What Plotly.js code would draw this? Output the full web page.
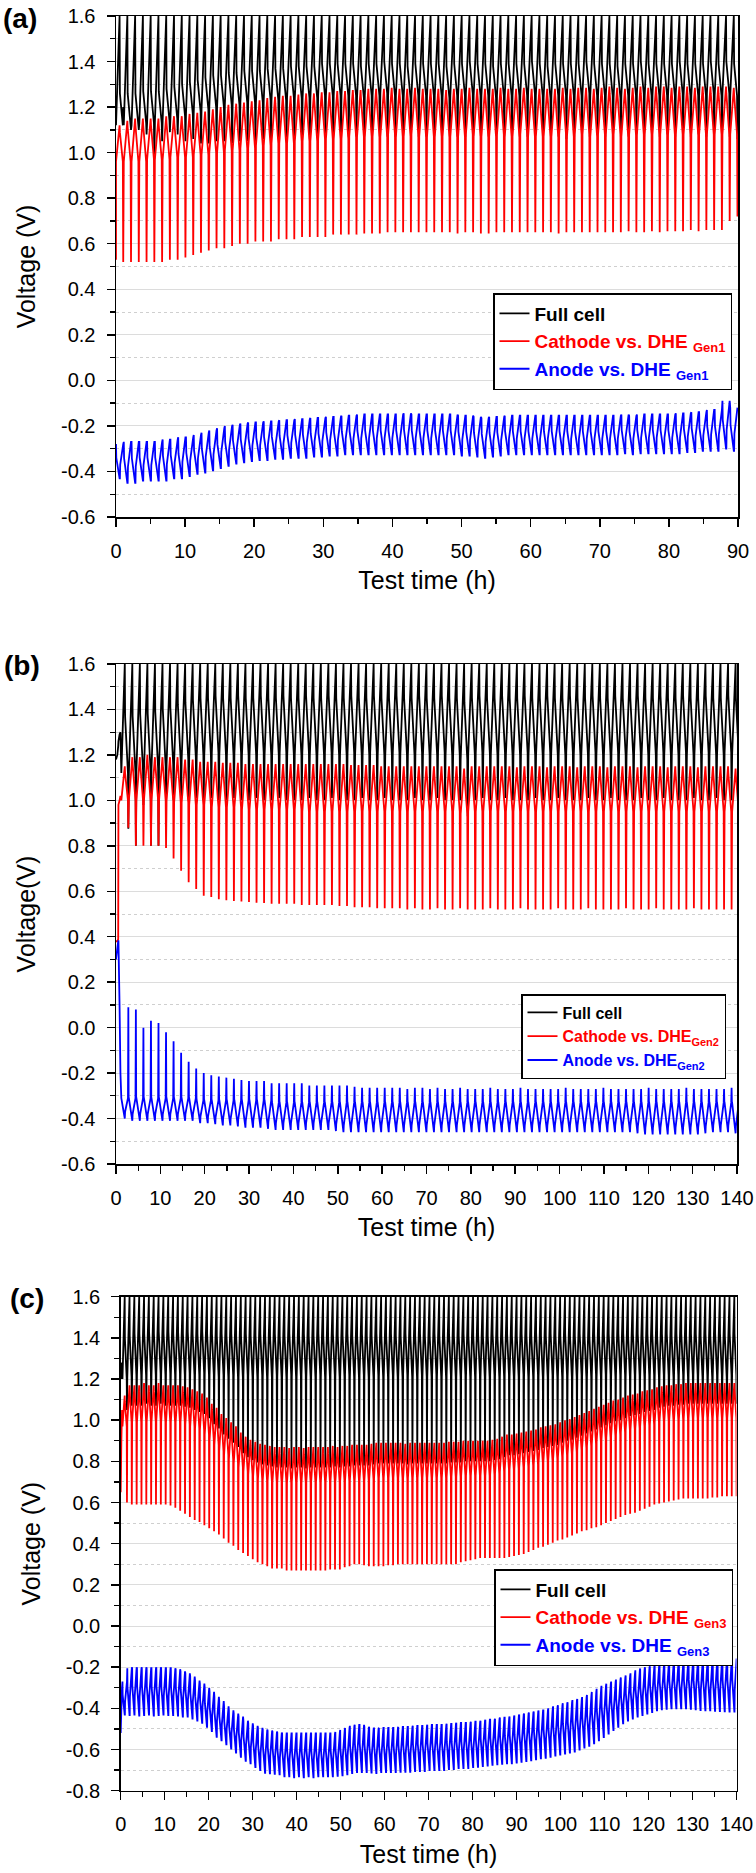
<!DOCTYPE html>
<html>
<head>
<meta charset="utf-8">
<script src="https://cdn.plot.ly/plotly-3.0.1.min.js"></script>
<style>html,body{margin:0;padding:0;background:#fff}#chart{width:756px;height:1873px}</style>
</head>
<body>
<div id="chart"></div>
<script>
// ================= DATA =================
const seriesFull = 'Full cell';
const seriesCathode = 'Cathode vs. DHE';
const seriesAnode = 'Anode vs. DHE';
const generations = ['Gen1', 'Gen2', 'Gen3'];
const xTitle = 'Test time (h)';
const yTitles = ['Voltage (V)', 'Voltage(V)', 'Voltage (V)'];
const panelLabels = ['(a)', '(b)', '(c)'];

const timeRangeA = [0, 90];
const timeRangeB = [0, 140];
const timeRangeC = [0, 140];
const voltRangeA = [-0.6, 1.6];
const voltRangeB = [-0.6, 1.6];
const voltRangeC = [-0.8, 1.6];
const xTickValsA = [0, 10, 20, 30, 40, 50, 60, 70, 80, 90];
const xTickTextA = ['0', '10', '20', '30', '40', '50', '60', '70', '80', '90'];
const xTickValsBC = [0, 10, 20, 30, 40, 50, 60, 70, 80, 90, 100, 110, 120, 130, 140];
const xTickTextBC = ['0', '10', '20', '30', '40', '50', '60', '70', '80', '90', '100', '110', '120', '130', '140'];
const yTickValsAB = [-0.6, -0.4, -0.2, 0, 0.2, 0.4, 0.6, 0.8, 1.0, 1.2, 1.4, 1.6];
const yTickTextAB = ['-0.6', '-0.4', '-0.2', '0.0', '0.2', '0.4', '0.6', '0.8', '1.0', '1.2', '1.4', '1.6'];
const yTickValsC = [-0.8, -0.6, -0.4, -0.2, 0, 0.2, 0.4, 0.6, 0.8, 1.0, 1.2, 1.4, 1.6];
const yTickTextC = ['-0.8', '-0.6', '-0.4', '-0.2', '0.0', '0.2', '0.4', '0.6', '0.8', '1.0', '1.2', '1.4', '1.6'];

// full-cell charge cut-off voltage (V)
const chargeCutoff = 1.6;

// ---------- Panel (a): Gen1, one value per charge/discharge cycle ----------
const cycleStartA = 0;      // h
const cycleHoursA = 1.125;  // h per cycle
const startTimeA = [0];
const fullStartA = [1.25];
const cathodeStartA = [0.53];
const anodeStartA = [-0.30];

const fullMidA = [
 1.12,1.12,1.12,1.13,1.13,1.13,1.14,1.15,1.16,1.17,
 1.18,1.19,1.20,1.20,1.21,1.21,1.22,1.22,1.22,1.23,
 1.23,1.23,1.24,1.24,1.24,1.24,1.25,1.25,1.25,1.25,
 1.25,1.24,1.25,1.25,1.26,1.25,1.25,1.24,1.25,1.25,
 1.25,1.25,1.24,1.25,1.25,1.26,1.25,1.25,1.24,1.25,
 1.25,1.25,1.25,1.26,1.25,1.24,1.25,1.25,1.25,1.25,
 1.26,1.25,1.25,1.25,1.24,1.25,1.25,1.26,1.25,1.25,
 1.25,1.25,1.26,1.25,1.25,1.25,1.26,1.25,1.26,1.25];
const fullLowA = [
 1.20,1.10,1.10,1.08,0.97,1.05,1.09,1.08,1.05,1.06,
 1.04,1.04,1.05,1.05,1.04,1.05,1.05,1.05,1.06,1.06,
 1.06,1.06,1.06,1.07,1.06,1.07,1.07,1.06,1.07,1.07,
 1.07,1.07,1.06,1.07,1.07,1.07,1.08,1.07,1.07,1.07,
 1.07,1.08,1.07,1.07,1.07,1.06,1.07,1.07,1.08,1.07,
 1.07,1.07,1.07,1.08,1.07,1.07,1.07,1.06,1.07,1.07,
 1.07,1.08,1.07,1.07,1.07,1.07,1.08,1.07,1.07,1.07,
 1.08,1.07,1.07,1.07,1.08,1.07,1.07,1.08,1.07,1.06];
const cathodeHighA = [
 1.12,1.14,1.15,1.15,1.15,1.15,1.16,1.16,1.16,1.17,
 1.175,1.18,1.19,1.20,1.21,1.215,1.22,1.225,1.23,1.24,
 1.245,1.25,1.25,1.255,1.26,1.26,1.265,1.265,1.27,1.27,
 1.275,1.275,1.28,1.28,1.28,1.285,1.28,1.28,1.285,1.28,
 1.28,1.28,1.275,1.28,1.28,1.285,1.28,1.28,1.28,1.285,
 1.28,1.28,1.285,1.28,1.28,1.28,1.28,1.285,1.28,1.285,
 1.285,1.28,1.285,1.29,1.285,1.28,1.285,1.29,1.285,1.29,
 1.29,1.285,1.29,1.29,1.285,1.29,1.29,1.29,1.29,1.285];
const cathodeMidA = [
 0.96,0.96,0.96,0.96,0.97,0.97,0.97,0.98,0.98,0.98,
 0.99,0.99,1.00,1.00,1.01,1.01,1.02,1.02,1.03,1.03,
 1.04,1.04,1.04,1.05,1.05,1.05,1.06,1.06,1.06,1.06,
 1.07,1.07,1.07,1.07,1.07,1.08,1.07,1.07,1.08,1.07,
 1.07,1.07,1.07,1.07,1.07,1.08,1.07,1.07,1.07,1.08,
 1.07,1.07,1.08,1.07,1.07,1.07,1.07,1.08,1.07,1.08,
 1.08,1.07,1.08,1.08,1.08,1.07,1.08,1.08,1.08,1.08,
 1.08,1.08,1.08,1.08,1.08,1.08,1.08,1.08,1.08,1.08];
const cathodeLowA = [
 0.52,0.52,0.52,0.52,0.52,0.52,0.53,0.53,0.54,0.55,
 0.56,0.57,0.58,0.58,0.59,0.60,0.60,0.61,0.61,0.61,
 0.62,0.62,0.62,0.63,0.63,0.63,0.63,0.64,0.64,0.64,
 0.64,0.645,0.645,0.645,0.65,0.65,0.65,0.65,0.65,0.65,
 0.65,0.65,0.65,0.645,0.65,0.65,0.645,0.645,0.65,0.65,
 0.65,0.65,0.65,0.65,0.65,0.65,0.645,0.65,0.65,0.65,
 0.65,0.65,0.65,0.65,0.65,0.655,0.65,0.65,0.655,0.65,
 0.655,0.655,0.655,0.66,0.655,0.66,0.66,0.66,0.70,0.72];
const anodeHighA = [
 -0.28,-0.27,-0.27,-0.27,-0.27,-0.27,-0.26,-0.26,-0.25,-0.25,
 -0.24,-0.23,-0.22,-0.21,-0.20,-0.195,-0.19,-0.185,-0.185,-0.18,
 -0.18,-0.175,-0.175,-0.17,-0.17,-0.165,-0.165,-0.16,-0.16,-0.155,
 -0.155,-0.15,-0.15,-0.15,-0.15,-0.15,-0.15,-0.145,-0.15,-0.15,
 -0.15,-0.15,-0.15,-0.15,-0.155,-0.155,-0.16,-0.165,-0.16,-0.16,
 -0.155,-0.155,-0.155,-0.155,-0.155,-0.155,-0.155,-0.155,-0.155,-0.155,
 -0.155,-0.155,-0.155,-0.155,-0.155,-0.15,-0.155,-0.15,-0.15,-0.15,
 -0.15,-0.15,-0.145,-0.145,-0.14,-0.14,-0.13,-0.13,-0.09,-0.12];
const anodeLowA = [
 -0.43,-0.45,-0.45,-0.44,-0.44,-0.44,-0.44,-0.43,-0.43,-0.42,
 -0.41,-0.405,-0.395,-0.385,-0.375,-0.365,-0.36,-0.355,-0.35,-0.35,
 -0.345,-0.345,-0.34,-0.34,-0.34,-0.335,-0.335,-0.33,-0.33,-0.325,
 -0.325,-0.325,-0.325,-0.325,-0.325,-0.325,-0.325,-0.325,-0.325,-0.325,
 -0.325,-0.325,-0.325,-0.325,-0.33,-0.33,-0.335,-0.34,-0.335,-0.33,
 -0.325,-0.325,-0.325,-0.325,-0.325,-0.325,-0.325,-0.325,-0.325,-0.325,
 -0.325,-0.325,-0.325,-0.325,-0.325,-0.32,-0.325,-0.32,-0.32,-0.32,
 -0.32,-0.32,-0.32,-0.315,-0.315,-0.31,-0.31,-0.31,-0.30,-0.31];

// ---------- Panel (b): Gen2 ----------
const cycleStartB = 1.2;
const cycleHoursB = 1.7;
const startTimeB = [0, 0.3, 0.5, 0.55, 0.8, 1.0];
const fullStartB = [1.18, 1.20, 1.24, 1.26, 1.29, 1.30];
const cathodeStartB = [0.38, 0.38, 0.39, 0.98, 1.00, 1.02];
const anodeStartB = [0.30, 0.35, 0.38, 0.38, 0.10, -0.20];

const fullMidB = [
 1.12,1.12,1.13,1.13,1.14,1.15,1.16,1.17,1.18,1.19,
 1.20,1.20,1.21,1.20,1.20,1.21,1.20,1.20,1.21,1.20,
 1.20,1.21,1.20,1.20,1.21,1.20,1.20,1.21,1.20,1.20,
 1.21,1.20,1.20,1.21,1.20,1.20,1.21,1.20,1.20,1.21,
 1.20,1.20,1.21,1.20,1.20,1.18,1.20,1.21,1.20,1.20,
 1.21,1.20,1.20,1.21,1.20,1.20,1.21,1.20,1.20,1.21,
 1.20,1.20,1.21,1.20,1.20,1.21,1.20,1.20,1.21,1.20,
 1.20,1.21,1.20,1.20,1.21,1.20,1.20,1.21,1.20,1.20,
 1.21,1.20];
const fullLowB = [
 0.875,0.80,0.98,0.80,0.80,0.97,1.00,1.00,1.00,1.01,
 1.00,1.01,1.00,1.00,1.01,1.00,1.00,1.01,1.00,1.00,
 1.01,1.00,1.00,1.00,1.01,1.00,1.00,1.01,1.00,1.00,
 1.00,1.01,1.00,1.00,1.01,1.00,1.00,1.00,1.01,1.00,
 1.00,1.01,1.00,1.00,1.00,0.93,1.00,1.01,1.00,1.00,
 1.01,1.00,1.00,1.00,1.01,1.00,1.00,1.01,1.00,1.00,
 1.00,1.01,1.00,1.00,1.01,1.00,1.00,1.00,1.01,1.00,
 1.00,1.01,1.00,1.00,1.00,1.01,1.00,1.00,1.01,1.00,
 1.00,1.01];
const cathodeHighB = [
 1.15,1.19,1.19,1.20,1.19,1.19,1.19,1.19,1.18,1.18,
 1.17,1.17,1.17,1.165,1.165,1.165,1.16,1.16,1.16,1.16,
 1.16,1.16,1.16,1.16,1.16,1.16,1.16,1.16,1.16,1.16,
 1.155,1.155,1.155,1.155,1.15,1.15,1.15,1.15,1.15,1.15,
 1.15,1.15,1.15,1.15,1.15,1.14,1.15,1.15,1.15,1.15,
 1.15,1.15,1.145,1.15,1.15,1.15,1.145,1.15,1.15,1.15,
 1.145,1.15,1.15,1.15,1.145,1.15,1.15,1.15,1.145,1.15,
 1.15,1.15,1.145,1.15,1.15,1.15,1.145,1.15,1.15,1.15,
 1.15,1.14];
const cathodeMidB = [
 1.00,1.00,1.00,1.00,1.00,1.00,1.00,0.99,0.99,0.98,
 0.98,0.98,0.97,0.97,0.97,0.97,0.96,0.96,0.96,0.96,
 0.96,0.96,0.96,0.96,0.95,0.95,0.95,0.95,0.95,0.95,
 0.95,0.95,0.95,0.95,0.95,0.95,0.95,0.95,0.95,0.95,
 0.95,0.95,0.95,0.95,0.95,0.94,0.95,0.95,0.95,0.95,
 0.95,0.95,0.95,0.95,0.95,0.95,0.95,0.95,0.95,0.95,
 0.95,0.95,0.95,0.95,0.95,0.95,0.95,0.95,0.95,0.95,
 0.95,0.95,0.95,0.95,0.95,0.95,0.95,0.95,0.95,0.95,
 0.95,0.95];
const cathodeLowB = [
 0.88,0.80,0.80,0.80,0.80,0.79,0.744,0.69,0.64,0.61,
 0.58,0.575,0.565,0.56,0.557,0.555,0.553,0.55,0.548,0.545,
 0.545,0.545,0.545,0.54,0.54,0.54,0.54,0.54,0.535,0.535,
 0.53,0.53,0.53,0.525,0.525,0.525,0.525,0.52,0.525,0.52,
 0.52,0.525,0.52,0.52,0.525,0.52,0.52,0.52,0.525,0.52,
 0.52,0.52,0.525,0.52,0.52,0.52,0.52,0.525,0.52,0.52,
 0.52,0.525,0.52,0.52,0.52,0.52,0.525,0.52,0.52,0.52,
 0.525,0.52,0.52,0.52,0.52,0.525,0.52,0.52,0.52,0.52,
 0.52,0.525];
const anodeHighB = [
 0.09,0.08,0.00,0.03,0.02,-0.02,-0.06,-0.11,-0.15,-0.18,
 -0.20,-0.21,-0.215,-0.22,-0.225,-0.23,-0.235,-0.235,-0.235,-0.245,
 -0.245,-0.245,-0.245,-0.245,-0.255,-0.255,-0.255,-0.255,-0.255,-0.255,
 -0.26,-0.265,-0.265,-0.265,-0.265,-0.265,-0.265,-0.27,-0.265,-0.265,
 -0.27,-0.265,-0.27,-0.27,-0.265,-0.27,-0.27,-0.27,-0.265,-0.27,
 -0.27,-0.27,-0.265,-0.27,-0.27,-0.27,-0.27,-0.27,-0.265,-0.27,
 -0.27,-0.27,-0.27,-0.265,-0.27,-0.27,-0.27,-0.27,-0.27,-0.265,
 -0.27,-0.27,-0.27,-0.27,-0.265,-0.27,-0.27,-0.27,-0.27,-0.27,
 -0.265,-0.27];
const anodeMidB = [
 -0.31,-0.31,-0.31,-0.31,-0.31,-0.31,-0.31,-0.31,-0.31,-0.31,
 -0.32,-0.32,-0.32,-0.32,-0.32,-0.32,-0.32,-0.32,-0.32,-0.32,
 -0.33,-0.33,-0.33,-0.33,-0.33,-0.33,-0.33,-0.33,-0.33,-0.33,
 -0.33,-0.33,-0.33,-0.33,-0.33,-0.33,-0.33,-0.33,-0.33,-0.33,
 -0.33,-0.33,-0.33,-0.33,-0.33,-0.33,-0.33,-0.33,-0.33,-0.33,
 -0.33,-0.33,-0.33,-0.33,-0.33,-0.33,-0.33,-0.33,-0.33,-0.33,
 -0.33,-0.33,-0.33,-0.33,-0.33,-0.33,-0.33,-0.33,-0.33,-0.33,
 -0.33,-0.33,-0.33,-0.33,-0.33,-0.33,-0.33,-0.33,-0.33,-0.33,
 -0.33,-0.33];
const anodeLowB = [
 -0.40,-0.41,-0.41,-0.41,-0.41,-0.41,-0.41,-0.41,-0.41,-0.41,
 -0.42,-0.42,-0.425,-0.43,-0.43,-0.435,-0.44,-0.44,-0.44,-0.445,
 -0.45,-0.45,-0.45,-0.45,-0.45,-0.45,-0.45,-0.45,-0.455,-0.46,
 -0.46,-0.46,-0.46,-0.46,-0.46,-0.46,-0.46,-0.46,-0.46,-0.46,
 -0.46,-0.46,-0.46,-0.46,-0.46,-0.46,-0.46,-0.46,-0.46,-0.46,
 -0.46,-0.46,-0.46,-0.46,-0.46,-0.46,-0.46,-0.46,-0.46,-0.46,
 -0.46,-0.46,-0.46,-0.46,-0.46,-0.46,-0.46,-0.46,-0.465,-0.47,
 -0.47,-0.47,-0.47,-0.47,-0.47,-0.47,-0.47,-0.465,-0.46,-0.46,
 -0.46,-0.465];

// ---------- Panel (c): Gen3 ----------
const cycleStartC = 0.4;
const cycleHoursC = 1.1;
const startTimeC = [0, 0.15, 0.3];
const fullStartC = [1.20, 1.25, 1.28];
const cathodeStartC = [0.65, 0.90, 1.05];
const anodeStartC = [-0.52, -0.40, -0.30];

const fullMidC = [
 1.20,1.21,1.22,1.22,1.22,1.23,1.22,1.23,1.22,1.23,
 1.22,1.23,1.22,1.23,1.22,1.22,1.23,1.22,1.22,1.21,
 1.22,1.21,1.22,1.21,1.21,1.22,1.21,1.21,1.22,1.21,
 1.21,1.22,1.21,1.21,1.22,1.21,1.21,1.22,1.21,1.21,
 1.22,1.21,1.21,1.22,1.21,1.21,1.22,1.21,1.21,1.22,
 1.21,1.21,1.22,1.21,1.21,1.22,1.21,1.21,1.22,1.21,
 1.21,1.22,1.21,1.21,1.22,1.21,1.21,1.22,1.21,1.21,
 1.22,1.21,1.21,1.22,1.21,1.21,1.22,1.21,1.21,1.22,
 1.21,1.21,1.22,1.21,1.21,1.22,1.21,1.21,1.22,1.21,
 1.21,1.22,1.21,1.21,1.22,1.21,1.21,1.22,1.21,1.22,
 1.22,1.21,1.22,1.22,1.21,1.22,1.22,1.21,1.22,1.22,
 1.21,1.22,1.22,1.21,1.22,1.22,1.21,1.22,1.22,1.21,
 1.22,1.21,1.22,1.22,1.21,1.22,1.22];
const fullLowC = [
 1.05,1.07,1.07,1.07,1.08,1.07,1.07,1.08,1.07,1.07,
 1.07,1.07,1.065,1.06,1.05,1.04,1.03,1.01,0.98,0.96,
 0.93,0.91,0.89,0.87,0.84,0.82,0.805,0.795,0.785,0.78,
 0.775,0.77,0.77,0.77,0.765,0.77,0.77,0.765,0.77,0.77,
 0.77,0.77,0.77,0.775,0.77,0.775,0.775,0.78,0.78,0.78,
 0.78,0.785,0.79,0.79,0.79,0.79,0.79,0.79,0.785,0.79,
 0.79,0.79,0.79,0.79,0.79,0.79,0.79,0.795,0.795,0.795,
 0.80,0.80,0.80,0.80,0.80,0.80,0.805,0.81,0.82,0.83,
 0.83,0.835,0.84,0.845,0.85,0.855,0.865,0.87,0.875,0.88,
 0.89,0.90,0.905,0.915,0.925,0.935,0.945,0.955,0.965,0.975,
 0.985,0.995,1.00,1.01,1.02,1.025,1.03,1.04,1.045,1.05,
 1.06,1.065,1.07,1.07,1.075,1.075,1.08,1.08,1.08,1.08,
 1.08,1.08,1.08,1.08,1.08,1.08,1.08];
const cathodeHighC = [
 1.12,1.17,1.17,1.17,1.18,1.17,1.17,1.18,1.17,1.17,
 1.17,1.17,1.165,1.16,1.15,1.14,1.13,1.11,1.08,1.06,
 1.03,1.01,0.99,0.97,0.94,0.92,0.905,0.895,0.885,0.88,
 0.875,0.87,0.87,0.87,0.865,0.87,0.87,0.865,0.87,0.87,
 0.87,0.87,0.87,0.875,0.87,0.875,0.875,0.88,0.88,0.88,
 0.88,0.885,0.89,0.89,0.89,0.89,0.89,0.89,0.885,0.89,
 0.89,0.89,0.89,0.89,0.89,0.89,0.89,0.895,0.895,0.895,
 0.90,0.90,0.90,0.90,0.90,0.90,0.905,0.91,0.92,0.93,
 0.93,0.935,0.94,0.945,0.95,0.955,0.965,0.97,0.975,0.98,
 0.99,1.00,1.005,1.015,1.025,1.035,1.045,1.055,1.065,1.075,
 1.085,1.095,1.10,1.11,1.12,1.125,1.13,1.14,1.145,1.15,
 1.16,1.165,1.17,1.17,1.175,1.175,1.18,1.18,1.18,1.18,
 1.18,1.18,1.18,1.18,1.18,1.18,1.18];
const cathodeMidC = [
 0.97,0.99,0.99,0.99,1.00,0.99,0.99,1.00,0.99,0.99,
 0.99,0.99,0.99,0.98,0.97,0.96,0.95,0.93,0.90,0.88,
 0.85,0.83,0.81,0.79,0.77,0.75,0.735,0.725,0.715,0.71,
 0.705,0.70,0.70,0.70,0.695,0.70,0.70,0.695,0.70,0.70,
 0.70,0.70,0.70,0.705,0.70,0.705,0.705,0.71,0.71,0.71,
 0.71,0.715,0.72,0.72,0.72,0.72,0.72,0.72,0.715,0.72,
 0.72,0.72,0.72,0.72,0.72,0.72,0.72,0.725,0.725,0.725,
 0.73,0.73,0.73,0.73,0.73,0.73,0.735,0.74,0.75,0.76,
 0.76,0.765,0.77,0.775,0.78,0.785,0.795,0.80,0.805,0.81,
 0.82,0.83,0.835,0.845,0.855,0.865,0.875,0.885,0.895,0.905,
 0.915,0.925,0.93,0.94,0.95,0.955,0.96,0.97,0.975,0.98,
 0.99,0.995,1.00,1.00,1.005,1.005,1.01,1.01,1.01,1.01,
 1.01,1.01,1.01,1.01,1.01,1.01,1.01];
const cathodeLowC = [
 0.60,0.59,0.59,0.59,0.59,0.59,0.59,0.59,0.59,0.585,
 0.575,0.56,0.545,0.53,0.515,0.505,0.49,0.475,0.46,0.445,
 0.425,0.405,0.39,0.37,0.355,0.34,0.325,0.31,0.30,0.29,
 0.28,0.28,0.28,0.27,0.27,0.27,0.27,0.27,0.27,0.27,
 0.27,0.27,0.275,0.275,0.275,0.285,0.29,0.30,0.30,0.295,
 0.29,0.29,0.29,0.29,0.295,0.295,0.30,0.30,0.30,0.30,
 0.30,0.30,0.30,0.30,0.30,0.30,0.30,0.30,0.30,0.31,
 0.315,0.32,0.325,0.33,0.33,0.33,0.33,0.33,0.33,0.335,
 0.34,0.345,0.35,0.36,0.37,0.38,0.385,0.395,0.405,0.415,
 0.42,0.43,0.44,0.45,0.46,0.465,0.475,0.48,0.49,0.50,
 0.51,0.52,0.53,0.54,0.545,0.55,0.56,0.57,0.58,0.59,
 0.595,0.60,0.605,0.61,0.615,0.62,0.62,0.62,0.62,0.62,
 0.62,0.625,0.625,0.63,0.63,0.63,0.63];
const anodeHighC = [
 -0.27,-0.205,-0.20,-0.205,-0.20,-0.205,-0.205,-0.20,-0.205,-0.205,
 -0.205,-0.21,-0.22,-0.23,-0.245,-0.265,-0.28,-0.30,-0.32,-0.344,
 -0.365,-0.39,-0.41,-0.425,-0.44,-0.46,-0.473,-0.485,-0.495,-0.503,
 -0.508,-0.513,-0.518,-0.522,-0.522,-0.522,-0.522,-0.522,-0.522,-0.522,
 -0.522,-0.522,-0.522,-0.522,-0.515,-0.505,-0.495,-0.485,-0.48,-0.48,
 -0.49,-0.495,-0.497,-0.495,-0.495,-0.495,-0.495,-0.49,-0.49,-0.49,
 -0.485,-0.485,-0.485,-0.48,-0.48,-0.48,-0.48,-0.475,-0.475,-0.47,
 -0.47,-0.47,-0.465,-0.465,-0.46,-0.455,-0.455,-0.45,-0.445,-0.445,
 -0.44,-0.435,-0.43,-0.425,-0.42,-0.415,-0.41,-0.41,-0.40,-0.39,
 -0.385,-0.375,-0.37,-0.36,-0.355,-0.345,-0.335,-0.32,-0.305,-0.29,
 -0.28,-0.27,-0.26,-0.25,-0.24,-0.23,-0.215,-0.206,-0.20,-0.195,
 -0.19,-0.185,-0.18,-0.177,-0.174,-0.17,-0.17,-0.168,-0.168,-0.166,
 -0.166,-0.166,-0.163,-0.162,-0.16,-0.16,-0.158];
const anodeLowC = [
 -0.43,-0.433,-0.43,-0.435,-0.433,-0.43,-0.435,-0.433,-0.43,-0.433,
 -0.433,-0.435,-0.44,-0.44,-0.45,-0.46,-0.47,-0.49,-0.51,-0.538,
 -0.555,-0.575,-0.595,-0.615,-0.635,-0.655,-0.667,-0.685,-0.70,-0.713,
 -0.716,-0.718,-0.72,-0.73,-0.73,-0.735,-0.73,-0.735,-0.73,-0.735,
 -0.73,-0.73,-0.73,-0.73,-0.728,-0.725,-0.72,-0.715,-0.71,-0.71,
 -0.71,-0.712,-0.714,-0.71,-0.71,-0.71,-0.71,-0.708,-0.708,-0.708,
 -0.705,-0.705,-0.705,-0.70,-0.70,-0.70,-0.70,-0.695,-0.695,-0.69,
 -0.69,-0.69,-0.685,-0.684,-0.68,-0.678,-0.675,-0.672,-0.67,-0.667,
 -0.667,-0.664,-0.66,-0.656,-0.652,-0.648,-0.643,-0.64,-0.636,-0.63,
 -0.625,-0.62,-0.615,-0.61,-0.60,-0.59,-0.582,-0.57,-0.555,-0.54,
 -0.522,-0.505,-0.49,-0.473,-0.46,-0.45,-0.44,-0.433,-0.425,-0.418,
 -0.41,-0.405,-0.402,-0.40,-0.40,-0.40,-0.40,-0.402,-0.405,-0.408,
 -0.41,-0.41,-0.412,-0.413,-0.415,-0.416,-0.416];

// ================= DRAWING =================
const FONT = 'Arial, "Liberation Sans", Helvetica, sans-serif';
const COL = {full: '#000000', cathode: '#ff0000', anode: '#0000ff'};
// position of the turning points inside one cycle (fraction of the cycle)
const S = {kneeEnd: 0.04, chargeEnd: 0.46, dischargeStart: 0.5, kneeStart: 0.54,
           plateauEnd: 0.88, plunge: 0.93, recover: 0.97};
const irStep = 0.03;
const anodeKnee = 0.4;  // share of the swing taken by the fast step of the anode
const fullDischargeStep = [0.14, 0.25, 0.2];

function cycles(start, period, n, shape, t0arr, v0arr) {
  const x = t0arr.slice(), y = v0arr.slice();
  for (let i = 0; i < n; i++) {
    for (const [f, val] of shape) {
      x.push(start + (i + f) * period);
      y.push(val(i));
    }
  }
  return {x, y};
}
const fullShape = (mid, low, step) => [
  [0, i => mid[i]], [S.chargeEnd, () => chargeCutoff], [S.dischargeStart, i => mid[i] + step],
  [S.plateauEnd, i => mid[i]], [S.plunge, i => low[i]]];
const cathodeShape = (hi, mid, low) => [
  [0, i => mid[i]], [S.chargeEnd, i => hi[i]], [S.dischargeStart, i => hi[i] - irStep],
  [S.plateauEnd, i => mid[i]], [S.plunge, i => low[i]]];
const anodeSaw = (hi, low) => [
  [0, i => hi[i]], [S.kneeEnd, i => hi[i] - anodeKnee * (hi[i] - low[i])], [S.chargeEnd, i => low[i]],
  [S.dischargeStart, i => low[i]], [S.kneeStart, i => low[i] + anodeKnee * (hi[i] - low[i])],
  [S.plunge, i => hi[i]]];
const anodeSpike = (hi, mid, low) => [
  [0, i => mid[i]], [S.chargeEnd, i => low[i]], [S.dischargeStart, i => low[i] + irStep],
  [S.plateauEnd, i => mid[i]], [S.plunge, i => hi[i]], [S.recover, i => mid[i]]];

const panels = [
  {ax: '', leg: 'legend', t0: cycleStartA, P: cycleHoursA, n: cathodeHighA.length, st: startTimeA,
   full: fullShape(fullMidA, fullLowA, fullDischargeStep[0]), fs: fullStartA,
   cath: cathodeShape(cathodeHighA, cathodeMidA, cathodeLowA), cs: cathodeStartA,
   an: anodeSaw(anodeHighA, anodeLowA), as: anodeStartA, gen: generations[0], sp: ' ', fsz: 19},
  {ax: '2', leg: 'legend2', t0: cycleStartB, P: cycleHoursB, n: cathodeHighB.length, st: startTimeB,
   full: fullShape(fullMidB, fullLowB, fullDischargeStep[1]), fs: fullStartB,
   cath: cathodeShape(cathodeHighB, cathodeMidB, cathodeLowB), cs: cathodeStartB,
   an: anodeSpike(anodeHighB, anodeMidB, anodeLowB), as: anodeStartB, gen: generations[1], sp: '', fsz: 16},
  {ax: '3', leg: 'legend3', t0: cycleStartC, P: cycleHoursC, n: cathodeHighC.length, st: startTimeC,
   full: fullShape(fullMidC, fullLowC, fullDischargeStep[2]), fs: fullStartC,
   cath: cathodeShape(cathodeHighC, cathodeMidC, cathodeLowC), cs: cathodeStartC,
   an: anodeSaw(anodeHighC, anodeLowC), as: anodeStartC, gen: generations[2], sp: ' ', fsz: 19}
];

const legendLabel = (text, gen, sep, color, size) =>
  '<span style="color:' + color + ';font-size:' + size + 'px">' + text + sep + '</span>' +
  '<sub><span style="color:' + color + ';font-size:' + Math.round(size * 0.68) + 'px">' + gen + '</span></sub>';

const traces = [];
panels.forEach(p => {
  const mk = (shape, v0, color, name, w) => {
    const d = cycles(p.t0, p.P, p.n, shape, p.st, v0);
    return {type: 'scatter', mode: 'lines', x: d.x, y: d.y, name: name,
      xaxis: 'x' + p.ax, yaxis: 'y' + p.ax, legend: p.leg,
      line: {color: color, width: w, simplify: false}, hoverinfo: 'skip'};
  };
  traces.push(mk(p.full, p.fs, COL.full, seriesFull, 1.8));
  traces.push(mk(p.cath, p.cs, COL.cathode, legendLabel(seriesCathode, p.gen, p.sp, COL.cathode, p.fsz), 1.8));
  traces.push(mk(p.an, p.as, COL.anode, legendLabel(seriesAnode, p.gen, p.sp, COL.anode, p.fsz), 1.8));
});

const W = 756, H = 1873;
const fx = px => px / W, fy = py => 1 - py / H;
const geom = [
  {l: 116, r: 738, t: 16, b: 517},
  {l: 116, r: 737, t: 664, b: 1164},
  {l: 120.7, r: 736.5, t: 1296.7, b: 1790.7}
];
const xr = [timeRangeA, timeRangeB, timeRangeC];
const yr = [voltRangeA, voltRangeB, voltRangeC];
const xtv = [xTickValsA, xTickValsBC, xTickValsBC];
const xtt = [xTickTextA, xTickTextBC, xTickTextBC];
const ytv = [yTickValsAB, yTickValsAB, yTickValsC];
const ytt = [yTickTextAB, yTickTextAB, yTickTextC];

const layout = {
  width: W, height: H, margin: {l: 0, r: 0, t: 0, b: 0},
  paper_bgcolor: '#fff', plot_bgcolor: '#fff',
  font: {family: FONT, color: '#000'},
  showlegend: true, annotations: []
};
geom.forEach((g, k) => {
  const s = k === 0 ? '' : String(k + 1);
  layout['xaxis' + s] = {
    domain: [fx(g.l), fx(g.r)], anchor: 'y' + s, range: xr[k],
    tickmode: 'array', tickvals: xtv[k], ticktext: xtt[k],
    ticks: 'outside', ticklen: 8, tickwidth: 1.5, tickcolor: '#000', ticklabelstandoff: 7,
    minor: {dtick: 5, tick0: 0, ticks: 'outside', ticklen: 5, tickwidth: 1.3, tickcolor: '#000'},
    showline: true, mirror: true, linecolor: '#000', linewidth: 1.5,
    showgrid: false, zeroline: false,
    tickfont: {size: 20, family: FONT, color: '#000'},
    title: {text: xTitle, font: {size: 25, family: FONT, color: '#000'}, standoff: 11}
  };
  layout['yaxis' + s] = {
    domain: [fy(g.b), fy(g.t)], anchor: 'x' + s, range: yr[k],
    tickmode: 'array', tickvals: ytv[k], ticktext: ytt[k],
    ticks: 'outside', ticklen: 8, tickwidth: 1.5, tickcolor: '#000', ticklabelstandoff: 7,
    minor: {tickmode: 'linear', dtick: 0.1, tick0: 0, ticks: 'outside', ticklen: 5, tickwidth: 1.3,
            tickcolor: '#000', showgrid: true, griddash: 'dot', gridcolor: '#cfcfcf', gridwidth: 1},
    showline: true, mirror: true, linecolor: '#000', linewidth: 1.5,
    showgrid: true, gridcolor: '#dcdcdc', gridwidth: 1, zeroline: false,
    tickfont: {size: 20, family: FONT, color: '#000'},
    title: {text: yTitles[k], font: {size: 25, family: FONT, color: '#000'}, standoff: 18}
  };
});
const legendBase = (x, y, size) => ({
  x: x, y: y, xanchor: 'left', yanchor: 'top', xref: 'paper', yref: 'paper',
  bgcolor: '#ffffff', bordercolor: '#000', borderwidth: 1.5, tracegroupgap: 0,
  font: {family: FONT, size: size, color: '#000', weight: 'bold'}
});
layout.legend = legendBase(fx(493), fy(293), 19);
layout.legend2 = legendBase(fx(521), fy(994), 16);
layout.legend3 = legendBase(fx(494), fy(1569), 19);

[[20, 18], [22, 666], [27, 1298]].forEach((pos, k) => {
  layout.annotations.push({text: '<b>' + panelLabels[k] + '</b>', xref: 'paper', yref: 'paper',
    x: fx(pos[0]), y: fy(pos[1]), xanchor: 'center', yanchor: 'middle', showarrow: false,
    font: {size: 28, family: FONT, color: '#000'}});
});

Plotly.newPlot('chart', traces, layout, {staticPlot: true, displayModeBar: false});
</script>
</body>
</html>
